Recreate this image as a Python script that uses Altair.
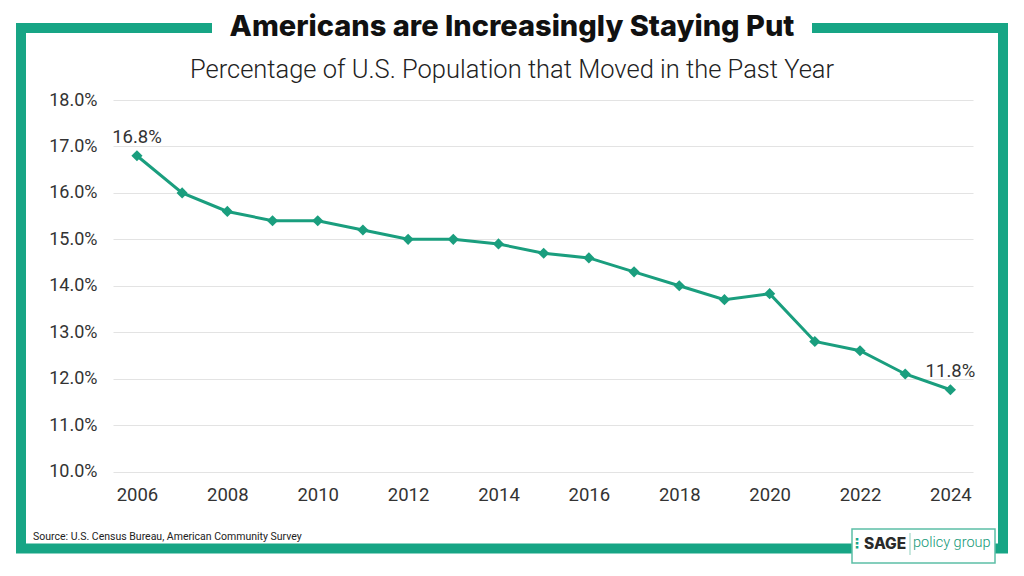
import altair as alt
import pandas as pd

years = list(range(2006, 2025))
moved_pct = [16.8, 16.0, 15.6, 15.4, 15.4, 15.2, 15.0, 15.0, 14.9, 14.7,
             14.6, 14.3, 14.0, 13.7, 13.83, 12.8, 12.6, 12.1, 11.76]
label_years = [2006, 2024]
label_texts = ["16.8%", "11.8%"]

title_text = "Americans are Increasingly Staying Put"
subtitle_text = "Percentage of U.S. Population that Moved in the Past Year"
source_text = "Source: U.S. Census Bureau, American Community Survey"

GREEN = "#17a585"
LINE = "#1a9e7e"

df = pd.DataFrame({"year": years, "pct": moved_pct})
lab = pd.DataFrame({"year": label_years,
                    "pct": [moved_pct[years.index(y)] for y in label_years],
                    "txt": label_texts})

x_enc = alt.X("year:Q", scale=alt.Scale(domain=[2005.47, 2024.5], nice=False, zero=False),
              axis=alt.Axis(values=list(range(2006, 2025, 2)), format="d", grid=False,
                            ticks=False, domain=False, labelPadding=14, labelFontSize=18.5,
                            labelColor="#333333", labelFont="Roboto", title=None))
y_enc = alt.Y("pct:Q", scale=alt.Scale(domain=[10, 18], nice=False, zero=False),
              axis=alt.Axis(values=list(range(10, 19)), labelExpr="format(datum.value, '.1f') + '%'",
                            grid=True, gridColor="#e3e3e3", gridWidth=1.2, ticks=False, domain=False,
                            labelPadding=16, labelFontSize=18, labelColor="#333333",
                            labelFont="Roboto", title=None))

line = alt.Chart(df).mark_line(color=LINE, strokeWidth=3).encode(x=x_enc, y=y_enc)
pts = alt.Chart(df).mark_point(shape="diamond", filled=True, color=LINE, size=125, opacity=1).encode(x="year:Q", y="pct:Q")
labels = alt.Chart(lab).mark_text(font="Roboto", fontSize=18.5, color="#333333", baseline="alphabetic", dy=-13).encode(
    x="year:Q", y="pct:Q", text="txt:N")

one = alt.Data(values=[{"a": 1}])

frame = alt.Chart(one).mark_rect(fill=None, filled=False, stroke=GREEN, strokeWidth=10).encode(
    x=alt.value(-92), x2=alt.value(890), y=alt.value(-72), y2=alt.value(448.5))
title_bg = alt.Chart(one).mark_rect(fill="white").encode(
    x=alt.value(99), x2=alt.value(699), y=alt.value(-82), y2=alt.value(-62))
title = alt.Chart(one).mark_text(text=title_text, font="Inter", fontWeight=800, fontSize=29,
                                 color="#111111", baseline="middle", align="center").encode(
    x=alt.value(399), y=alt.value(-73))
subtitle = alt.Chart(one).mark_text(text=subtitle_text, font="Roboto", fontWeight=300, fontSize=25.5,
                                    color="#222222", baseline="middle", align="center").encode(
    x=alt.value(399), y=alt.value(-30))
source = alt.Chart(one).mark_text(text=source_text, font="Roboto", fontSize=10.5,
                                  color="#222222", baseline="middle", align="left").encode(
    x=alt.value(-80), y=alt.value(437))

logo_box = alt.Chart(one).mark_rect(fill="white", stroke="#5cbfa6", strokeWidth=1.5).encode(
    x=alt.value(739), x2=alt.value(882), y=alt.value(429), y2=alt.value(463))
logo_dots = alt.Chart(one).mark_text(text="⋮", font="DejaVu Sans", fontWeight="bold", fontSize=14,
                                     color=GREEN, baseline="middle", align="center").encode(
    x=alt.value(744), y=alt.value(444))
logo_sage = alt.Chart(one).mark_text(text="SAGE", font="Inter", fontWeight=800, fontSize=15.5,
                                     color="#2a2a2a", baseline="middle", align="left").encode(
    x=alt.value(751), y=alt.value(444))
logo_sep = alt.Chart(one).mark_rule(color="#8fcfbd", strokeWidth=1).encode(
    x=alt.value(797), y=alt.value(433), y2=alt.value(455))
logo_pg = alt.Chart(one).mark_text(text="policy group", font="Roboto", fontWeight=300, fontSize=14.5,
                                   color="#139978", baseline="middle", align="left").encode(
    x=alt.value(800), y=alt.value(443))

chart = alt.layer(frame, title_bg, title, subtitle, source, logo_box, logo_dots, logo_sage, logo_sep, logo_pg,
                  line, pts, labels).properties(
    width=860, height=371.5,
    autosize=alt.AutoSizeParams(type="none"),
    padding={"left": 105, "top": 92, "right": 43, "bottom": 96},
    background="white",
).configure_view(stroke=None)

chart.save("out.html", embed_options={"renderer": "svg", "actions": False})
